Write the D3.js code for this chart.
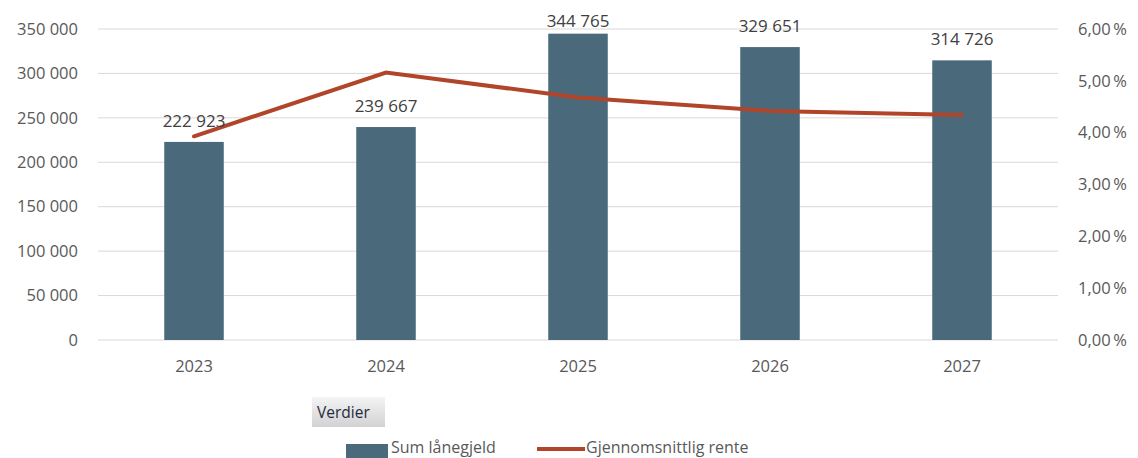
<!DOCTYPE html>
<html>
<head>
<meta charset="utf-8">
<script src="https://cdn.jsdelivr.net/npm/d3@7"></script>
<style>
  body { margin: 0; background: #fff; }
  text { font-family: "Open Sans", "Noto Sans", sans-serif; }
</style>
</head>
<body>
<svg id="chart"></svg>
<script>
const years = ["2023", "2024", "2025", "2026", "2027"];
const debt = [222923, 239667, 344765, 329651, 314726];
const rate = [3.93, 5.16, 4.68, 4.42, 4.34];
const leftTicks = [0, 50000, 100000, 150000, 200000, 250000, 300000, 350000];
const rightTicks = [0, 1, 2, 3, 4, 5, 6];

const width = 1138, height = 458;
const margin = { top: 29, right: 80, bottom: 118, left: 98 };
const innerW = width - margin.left - margin.right;
const innerH = height - margin.top - margin.bottom;

const svg = d3.select("#chart").attr("width", width).attr("height", height);
const chart = svg.append("g").attr("transform", `translate(${margin.left},${margin.top})`);

const x = d3.scaleBand().domain(years).range([0, innerW]).paddingInner(0.69).paddingOuter(0.345);
const y = d3.scaleLinear().domain([0, 350000]).range([innerH, 0]);
const y2 = d3.scaleLinear().domain([0, 6]).range([innerH, 0]);

const fmtNum = v => d3.format(",")(v).replace(/,/g, " ");
const fmtPct = v => d3.format(".2f")(v).replace(".", ",") + "\u2009%";

// grid
chart.append("g").selectAll("line").data(leftTicks).join("line")
  .attr("x1", 0).attr("x2", innerW)
  .attr("y1", d => y(d)).attr("y2", d => y(d))
  .attr("stroke", "#d9d9d9").attr("stroke-width", 1);

// left axis
const yAxis = chart.append("g")
  .call(d3.axisLeft(y).tickValues(leftTicks).tickFormat(fmtNum).tickSize(0).tickPadding(20));
yAxis.select(".domain").remove();
yAxis.selectAll("text").attr("fill", "#595959").style("font-size", "16.5px");

// right axis
const y2Axis = chart.append("g").attr("transform", `translate(${innerW},0)`)
  .call(d3.axisRight(y2).tickValues(rightTicks).tickFormat(fmtPct).tickSize(0).tickPadding(20));
y2Axis.select(".domain").remove();
y2Axis.selectAll("text").attr("fill", "#595959").style("font-size", "16.5px");

// x axis
const xAxis = chart.append("g").attr("transform", `translate(0,${innerH})`)
  .call(d3.axisBottom(x).tickSize(0).tickPadding(20));
xAxis.select(".domain").remove();
xAxis.selectAll("text").attr("fill", "#595959").style("font-size", "16.5px");

// bars
chart.append("g").selectAll("rect").data(years).join("rect")
  .attr("x", d => x(d))
  .attr("y", (d, i) => y(debt[i]))
  .attr("width", x.bandwidth())
  .attr("height", (d, i) => innerH - y(debt[i]))
  .attr("fill", "#4a6a7b");

// line
const line = d3.line()
  .x((d, i) => x(years[i]) + x.bandwidth() / 2)
  .y(d => y2(d));
chart.append("path").datum(rate)
  .attr("d", line)
  .attr("fill", "none")
  .attr("stroke", "#b0452a")
  .attr("stroke-width", 4)
  .attr("stroke-linecap", "round");

// bar labels (kept inside the top edge like Excel does)
chart.append("g").selectAll("text").data(years).join("text")
  .attr("x", d => x(d) + x.bandwidth() / 2)
  .attr("y", (d, i) => Math.max(y(debt[i]) - 15, -2))
  .attr("text-anchor", "middle")
  .attr("fill", "#404040")
  .style("font-size", "17px")
  .text((d, i) => fmtNum(debt[i]));

// field button
const btn = svg.append("g").attr("transform", "translate(312,397)");
const grad = svg.append("defs").append("linearGradient").attr("id", "btnGrad")
  .attr("x1", 0).attr("x2", 0).attr("y1", 0).attr("y2", 1);
grad.append("stop").attr("offset", "0%").attr("stop-color", "#f4f4f4");
grad.append("stop").attr("offset", "100%").attr("stop-color", "#d2d2d2");
btn.append("rect").attr("width", 73).attr("height", 30).attr("fill", "url(#btnGrad)");
btn.append("text").attr("x", 5).attr("y", 21).attr("fill", "#1f2a40")
  .style("font-size", "15.5px").text("Verdier");

// legend
const legend = svg.append("g");
legend.append("rect").attr("x", 346).attr("y", 444).attr("width", 42).attr("height", 14).attr("fill", "#4a6a7b");
legend.append("text").attr("x", 391).attr("y", 453).attr("fill", "#595959").style("font-size", "16px").text("Sum lånegjeld");
legend.append("line").attr("x1", 537).attr("x2", 585).attr("y1", 449).attr("y2", 449)
  .attr("stroke", "#b0452a").attr("stroke-width", 4);
legend.append("text").attr("x", 586).attr("y", 453).attr("fill", "#595959").style("font-size", "16px").text("Gjennomsnittlig rente");
</script>
</body>
</html>
